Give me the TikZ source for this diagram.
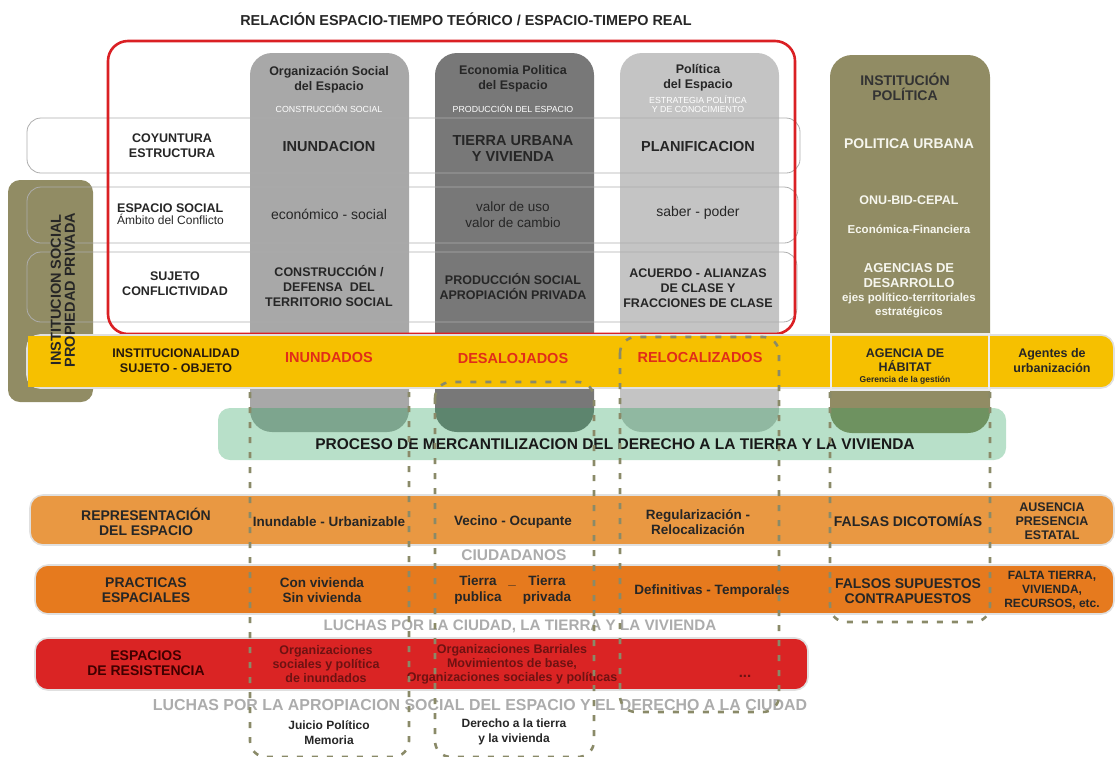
\documentclass[tikz,border=0pt]{standalone}
\usepackage{fontspec}
\setmainfont{Liberation Sans}
\definecolor{redbox}{RGB}{218,32,36}
\definecolor{cola}{RGB}{168,168,168}
\definecolor{colb}{RGB}{120,120,120}
\definecolor{colc}{RGB}{196,196,196}
\definecolor{olivec}{RGB}{145,140,100}
\definecolor{yel}{RGB}{246,192,0}
\definecolor{grn}{RGB}{40,160,90}
\definecolor{ora}{RGB}{233,152,66}
\definecolor{orb}{RGB}{230,122,30}
\definecolor{redb}{RGB}{218,36,36}
\definecolor{dashc}{RGB}{138,138,104}
\definecolor{ltxt}{RGB}{172,172,172}
\definecolor{txtred}{RGB}{225,45,25}
\definecolor{dtxt}{RGB}{38,38,38}
\definecolor{wtxt}{RGB}{246,246,238}
\definecolor{maroon}{RGB}{110,18,18}
\newcommand\fz[2]{\fontsize{#1}{#2}\selectfont}
\begin{document}
\begin{tikzpicture}[x=1pt,y=-1pt,
  lbl/.style={align=center,inner sep=0pt,text=dtxt},
  bold/.style={lbl,font=\bfseries\fz{12.5}{15}},
  big/.style={lbl,font=\bfseries\fz{14.5}{16}},
  reg/.style={lbl,font=\fz{14}{16}},
  wht/.style={lbl,text=wtxt,font=\bfseries\fz{12.5}{15}},
  sub/.style={lbl,text=white,font=\fz{8.8}{9.5}},
  redt/.style={lbl,text=txtred,font=\bfseries\fz{14.5}{16}},
  band/.style={bold,font=\bfseries\fz{13.5}{15.5}},
  gtxt/.style={lbl,text=ltxt,font=\bfseries\fz{15.2}{17}},
  rtxt/.style={lbl,text=maroon,font=\bfseries\fz{12.5}{14}},
  rowband/.style={draw=black!32,line width=0.8pt,rounded corners=14pt},
  colbox/.style={rounded corners=22pt},
  dashbox/.style={draw=dashc,line width=2.6pt,dash pattern=on 6pt off 9pt,rounded corners=16pt},
  strip/.style={draw=black!12,line width=1.6pt,rounded corners=13pt}]
\useasboundingbox (0,0) rectangle (1116,756);

% left olive box
\fill[olivec,rounded corners=12pt] (8,180) rectangle (93,402);
% columns
\fill[cola,colbox] (250,53) rectangle (409,432);
\fill[colb,colbox] (435,53) rectangle (594,432);
\fill[colc,colbox] (620,53) rectangle (779,432);
\fill[olivec,colbox] (830,55) rectangle (990,433);
% row bands
\draw[rowband] (27,118) rectangle (800,173);
\draw[rowband] (27,187) rectangle (798,243);
\draw[rowband] (27,252) rectangle (797,322);
% red frame
\draw[redbox,line width=2.6pt,rounded corners=20pt] (108,41) rectangle (795,334);
% yellow band
\fill[yel,rounded corners=14pt] (27,335) rectangle (1114,388);
\draw[strip] (27,335) rectangle (1114,388);
\fill[yel] (28,336) rectangle (100,387);
\draw[white!85!gray,line width=1.2pt] (831,334) rectangle (989,390);
% green band
\fill[grn,fill opacity=0.33,rounded corners=12pt] (218,408) rectangle (1006,460);
% orange / red bands
\fill[ora,rounded corners=13pt] (30,495) rectangle (1114,545);
\draw[strip] (30,495) rectangle (1114,545);
\fill[orb,rounded corners=13pt] (35,565) rectangle (1114,614);
\draw[strip] (35,565) rectangle (1114,614);
\fill[redb,rounded corners=13pt] (35,638) rectangle (808,690);
\draw[strip] (35,638) rectangle (808,690);

% title
\node[lbl,font=\bfseries\fz{14.4}{16}] (title) at (466,19) {RELACIÓN ESPACIO-TIEMPO TEÓRICO / ESPACIO-TIMEPO REAL};
% left institution
\node[lbl,rotate=90,font=\bfseries\fz{14.5}{14},text=black!85] (inst) at (63,290) {INSTITUCION SOCIAL\\PROPIEDAD PRIVADA};

% column headers
\node[bold] (h1) at (329,80) {Organización Social\\del Espacio};
\node[sub] (s1) at (329,109) {CONSTRUCCIÓN SOCIAL};
\node[bold] (h2) at (513,79) {Economia Politica\\del Espacio};
\node[sub] (s2) at (513,109) {PRODUCCIÓN DEL ESPACIO};
\node[bold] (h3) at (698,78) {Política\\del Espacio};
\node[sub] (s3) at (698,104) {ESTRATEGIA POLÍTICA\\Y DE CONOCIMIENTO};
\node[lbl,font=\bfseries\fz{14}{15.5},text=black!80] (h4) at (905,87) {INSTITUCIÓN\\POLÍTICA};

% row 1
\node[bold] (r1l) at (172,146) {COYUNTURA\\ESTRUCTURA};
\node[big] (r1a) at (329,147) {INUNDACION};
\node[big] (r1b) at (513,149) {TIERRA URBANA\\Y VIVIENDA};
\node[big] (r1c) at (698,147) {PLANIFICACION};
\node[wht,font=\bfseries\fz{14}{16}] (r1d) at (909,144) {POLITICA URBANA};
% row 2
\node[lbl,anchor=west,align=left] (r2l) at (117,214) {{\bfseries\fz{12.5}{15}ESPACIO SOCIAL}\\{\fz{12}{15}Ámbito del Conflicto}};
\node[reg] (r2a) at (329,214) {económico - social};
\node[reg,font=\fz{13.5}{16}] (r2b) at (513,215) {valor de uso\\valor de cambio};
\node[reg] (r2c) at (698,213) {saber - poder};
\node[wht] (r2d) at (909,200) {ONU-BID-CEPAL};
\node[wht,font=\bfseries\fz{11.5}{14}] (r2e) at (909,229) {Económica-Financiera};
% row 3
\node[bold] (r3l) at (175,284) {SUJETO\\CONFLICTIVIDAD};
\node[bold] (r3a) at (329,286) {CONSTRUCCIÓN /\\DEFENSA \ DEL\\TERRITORIO SOCIAL};
\node[bold] (r3b) at (513,287) {PRODUCCIÓN SOCIAL\\APROPIACIÓN PRIVADA};
\node[bold] (r3c) at (698,288) {ACUERDO - ALIANZAS\\DE CLASE Y\\FRACCIONES DE CLASE};
\node[wht,font=\bfseries\fz{13}{15}] (r3d) at (909,276) {AGENCIAS DE\\DESARROLLO};
\node[wht,font=\bfseries\fz{11.5}{14}] (r3e) at (909,305) {ejes político-territoriales\\estratégicos};
% yellow band
\node[bold,text=black!80!brown] (y0) at (176,361) {INSTITUCIONALIDAD\\SUJETO - OBJETO};
\node[redt] (y1) at (329,357) {INUNDADOS};
\node[redt] (y2) at (513,358) {DESALOJADOS};
\node[redt] (y3) at (700,357) {RELOCALIZADOS};
\node[bold,font=\bfseries\fz{12.5}{14}] (y4) at (905,360) {AGENCIA DE\\HÁBITAT};
\node[bold,font=\bfseries\fz{8.5}{10}] (y5) at (905,380) {Gerencia de la gestión};
\node[bold] (y6) at (1052,361) {Agentes de\\urbanización};
% green band
\node[lbl,font=\bfseries\fz{15.5}{17},text=black!90] (g) at (615,444) {PROCESO DE MERCANTILIZACION DEL DERECHO A LA TIERRA Y LA VIVIENDA};
% orange 1
\node[band,font=\bfseries\fz{14}{15.5}] (o10) at (146,522) {REPRESENTACIÓN\\DEL ESPACIO};
\node[band] (o11) at (329,522) {Inundable - Urbanizable};
\node[band] (o12) at (513,522) {Vecino - Ocupante};
\node[band] (o13) at (698,522) {Regularización -\\Relocalización};
\node[band,font=\bfseries\fz{14}{15.5}] (o14) at (908,520) {FALSAS DICOTOMÍAS};
\node[bold,font=\bfseries\fz{12.5}{14}] (o15) at (1052,521) {AUSENCIA\\PRESENCIA\\ESTATAL};
\node[gtxt,font=\bfseries\fz{15.5}{17}] (ciu) at (514,555) {CIUDADANOS};
% orange 2
\node[band,font=\bfseries\fz{14}{15.5}] (o20) at (146,590) {PRACTICAS\\ESPACIALES};
\node[band] (o21) at (322,590) {Con vivienda\\Sin vivienda};
\node[band] (o22) at (478,590) {Tierra\\publica};
\node[band] (o23) at (547,590) {Tierra\\privada};
\node[band] (o24) at (512,585) {\_};
\node[band] (o25) at (712,591) {Definitivas - Temporales};
\node[band,font=\bfseries\fz{14}{15.5}] (o26) at (908,591) {FALSOS SUPUESTOS\\CONTRAPUESTOS};
\node[bold,font=\bfseries\fz{12}{14}] (o27) at (1052,590) {FALTA TIERRA,\\VIVIENDA,\\RECURSOS, etc.};
\node[gtxt] (luc1) at (520,626) {LUCHAS POR LA CIUDAD, LA TIERRA Y LA VIVIENDA};
% red band
\node[lbl,font=\bfseries\fz{14}{15.5},text=black!75!red] (rb0) at (146,663) {ESPACIOS\\DE RESISTENCIA};
\node[rtxt] (rb1) at (326,664) {Organizaciones\\sociales y política\\de inundados};
\node[rtxt] (rb2) at (512,664) {Organizaciones Barriales\\Movimientos de base,\\Organizaciones sociales y políticas};
\node[rtxt,font=\bfseries\fz{15}{15}] (rb3) at (745,676) {...};
\node[gtxt,font=\bfseries\fz{15.9}{17}] (luc2) at (480,705) {LUCHAS POR LA APROPIACION SOCIAL DEL ESPACIO Y EL DERECHO A LA CIUDAD};
% bottom
\node[bold,font=\bfseries\fz{12}{15},text=black!85] (b1) at (329,733) {Juicio Político\\Memoria};
\node[bold,font=\bfseries\fz{12}{15},text=black!85] (b2) at (514,732) {Derecho a la tierra\\y la vivienda};

% dashed outlines
\draw[dashbox] (250,392) -- (250,757) -- (409,757) -- (409,392);
\draw[dashbox] (435,382) rectangle (594,757);
\draw[dashbox] (620,337) rectangle (779,712);
\draw[dashbox] (830,392) -- (830,622) -- (990,622) -- (990,392);
\end{tikzpicture}
\end{document}
